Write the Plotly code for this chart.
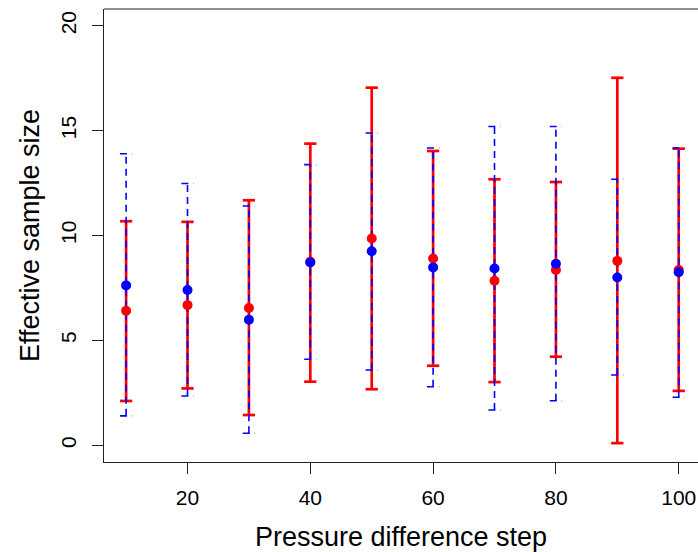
import plotly.graph_objects as go

# Data
steps = [10, 20, 30, 40, 50, 60, 70, 80, 90, 100]

red_mean = [6.41, 6.68, 6.54, 8.75, 9.86, 8.90, 7.84, 8.36, 8.79, 8.35]
red_lower = [2.11, 2.71, 1.44, 3.03, 2.67, 3.79, 3.01, 4.22, 0.10, 2.59]
red_upper = [10.68, 10.65, 11.68, 14.38, 17.05, 14.03, 12.68, 12.55, 17.52, 14.14]

blue_mean = [7.62, 7.40, 5.98, 8.71, 9.25, 8.48, 8.43, 8.65, 8.00, 8.25]
blue_lower = [1.40, 2.35, 0.57, 4.10, 3.59, 2.79, 1.68, 2.12, 3.35, 2.29]
blue_upper = [13.90, 12.48, 11.41, 13.38, 14.89, 14.17, 15.20, 15.20, 12.68, 14.17]

x_ticks = [20, 40, 60, 80, 100]
y_ticks = [0, 5, 10, 15, 20]

CAP = 1.0  # half width of error-bar caps in x data units


def bar_paths(xs, lo, hi):
    px, py = [], []
    for x, l, h in zip(xs, lo, hi):
        # shaft
        px += [x, x, None]
        py += [l, h, None]
        # caps (side -> tip -> side, like R arrows)
        px += [x - CAP, x, x + CAP, None]
        py += [l, l, l, None]
        px += [x - CAP, x, x + CAP, None]
        py += [h, h, h, None]
    return px, py


RED = "#FF0000"
BLUE = "#0000FF"

fig = go.Figure()

rx, ry = bar_paths(steps, red_lower, red_upper)
fig.add_trace(go.Scatter(x=rx, y=ry, mode="lines",
                         line=dict(color=RED, width=2.7),
                         hoverinfo="skip", showlegend=False))

bx, by = bar_paths(steps, blue_lower, blue_upper)
fig.add_trace(go.Scatter(x=bx, y=by, mode="lines",
                         line=dict(color=BLUE, width=1.6, dash="7px,5px"),
                         hoverinfo="skip", showlegend=False))

fig.add_trace(go.Scatter(x=steps, y=red_mean, mode="markers",
                         marker=dict(color=RED, size=10, line=dict(width=0)),
                         showlegend=False))
fig.add_trace(go.Scatter(x=steps, y=blue_mean, mode="markers",
                         marker=dict(color=BLUE, size=10, line=dict(width=0)),
                         showlegend=False))

font_family = "Liberation Sans, Arial, Helvetica, sans-serif"

fig.update_layout(
    width=698, height=552,
    margin=dict(l=104, r=0, t=9, b=90, autoexpand=False),
    paper_bgcolor="white", plot_bgcolor="white",
    font=dict(family=font_family, color="black"),
    xaxis=dict(
        range=[6.4, 103.14], tickvals=x_ticks, ticktext=[str(v) for v in x_ticks],
        ticks="outside", ticklen=11, tickwidth=1, tickcolor="#222",
        ticklabelstandoff=6,
        showline=True, linecolor="#222", linewidth=1.2, mirror=False,
        showgrid=False, zeroline=False, automargin=False,
        tickfont=dict(size=21, family=font_family, color="black"),
        title=dict(text="Pressure difference step",
                   font=dict(size=27, family=font_family, color="black"),
                   standoff=18),
    ),
    yaxis=dict(
        range=[-0.8, 20.8], tickvals=y_ticks, ticktext=[str(v) for v in y_ticks],
        tickangle=-90,
        ticks="outside", ticklen=11, tickwidth=1, tickcolor="#222",
        ticklabelstandoff=7,
        showline=True, linecolor="#222", linewidth=1.2, mirror=False,
        showgrid=False, zeroline=False, automargin=False,
        tickfont=dict(size=21, family=font_family, color="black"),
        title=dict(text="Effective sample size",
                   font=dict(size=27, family=font_family, color="black"),
                   standoff=10),
    ),
    shapes=[dict(type="line", xref="paper", yref="paper",
                 x0=0, x1=1, y0=1, y1=1,
                 line=dict(color="#222", width=1.2))],
)

# remove the default 8px page margin so the figure fills the window exactly
fig.write_html("out.html",
               config={"displayModeBar": False, "staticPlot": True},
               post_script="document.body.style.margin='0';")
